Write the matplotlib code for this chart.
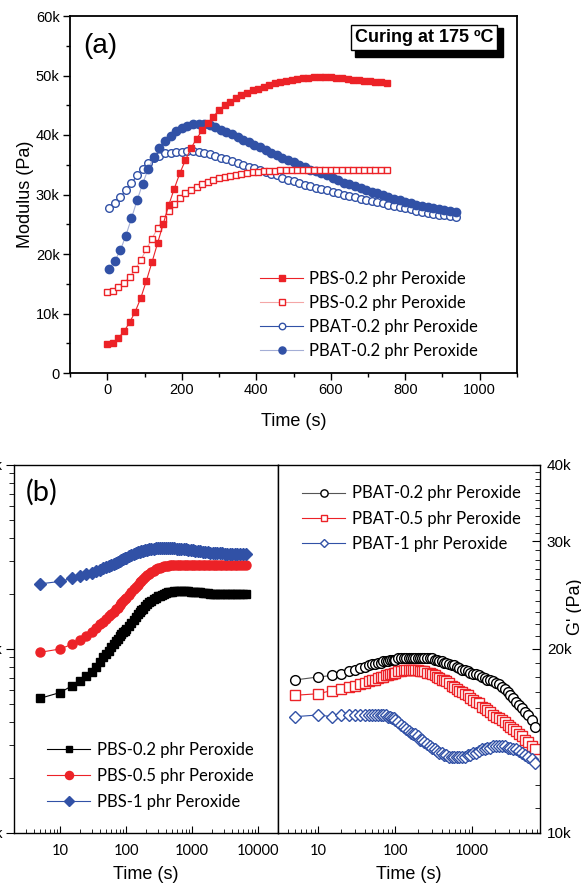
import numpy as np
import matplotlib
matplotlib.use('Agg')
import matplotlib.pyplot as plt
from matplotlib.patches import Rectangle
from matplotlib.ticker import MultipleLocator, LogLocator, NullFormatter, FixedLocator

plt.rcParams['font.family'] = ['Liberation Sans', 'DejaVu Sans']

RED = '#EC2227'
BLUE = '#3151A6'

# ---- (a) curing at 175 C, modulus in kPa, one point every 15 s ----
pbs_fill_a = [4.9, 5.1, 5.9, 7.0, 8.5, 10.3, 12.6, 15.5, 18.6, 21.8, 25.0, 28.2, 31.0,
              33.6, 35.8, 37.8, 39.4, 40.8, 42.0, 43.1, 44.2, 45.0, 45.6, 46.2, 46.7,
              47.1, 47.5, 47.8, 48.1, 48.4, 48.7, 48.9, 49.1, 49.3, 49.4, 49.5, 49.6,
              49.7, 49.7, 49.7, 49.7, 49.6, 49.5, 49.4, 49.3, 49.2, 49.1, 49.0, 48.9,
              48.9, 48.8]
pbs_open_a = [13.6, 13.8, 14.5, 15.2, 16.1, 17.4, 19.0, 20.8, 22.6, 24.3, 25.9, 27.2,
              28.4, 29.4, 30.2, 30.8, 31.3, 31.7, 32.1, 32.4, 32.7, 32.9, 33.1, 33.3,
              33.5, 33.6, 33.7, 33.8, 33.9, 34.0, 34.0, 34.1, 34.1, 34.2, 34.2, 34.2,
              34.2, 34.2, 34.2, 34.2, 34.2, 34.2, 34.2, 34.2, 34.2, 34.2, 34.2, 34.2,
              34.1, 34.1, 34.1]
pbat_open_a = [27.7, 28.5, 29.5, 30.8, 31.9, 33.2, 34.3, 35.3, 36.1, 36.5, 36.9, 37.0,
               37.1, 37.2, 37.3, 37.3, 37.2, 37.0, 36.8, 36.5, 36.2, 35.9, 35.6, 35.3,
               35.0, 34.7, 34.4, 34.1, 33.8, 33.5, 33.2, 32.8, 32.5, 32.2, 31.9, 31.6,
               31.4, 31.1, 30.9, 30.7, 30.4, 30.2, 30.0, 29.8, 29.5, 29.3, 29.1, 28.9,
               28.7, 28.5, 28.3, 28.1, 27.9, 27.7, 27.5, 27.3, 27.1, 26.9, 26.8, 26.6,
               26.5, 26.4, 26.3]
pbat_fill_a = [17.5, 18.8, 20.6, 23.1, 26.0, 29.0, 31.8, 34.3, 36.3, 37.8, 39.0, 39.9,
               40.6, 41.1, 41.5, 41.8, 41.9, 41.9, 41.7, 41.3, 40.9, 40.5, 40.1, 39.6,
               39.2, 38.8, 38.4, 37.9, 37.4, 37.0, 36.6, 36.2, 35.8, 35.4, 35.0, 34.6,
               34.2, 33.9, 33.6, 33.2, 32.8, 32.4, 32.0, 31.7, 31.4, 31.1, 30.8, 30.5,
               30.2, 29.9, 29.6, 29.3, 29.0, 28.8, 28.5, 28.3, 28.1, 27.9, 27.7, 27.5,
               27.4, 27.2, 27.1]
t_pbs_a = np.arange(len(pbs_fill_a)) * 15
t_pbat_a = 5 + np.arange(len(pbat_fill_a)) * 15

# ---- (b) G' (kPa) against time (s) ----
t_b = [5, 10, 15, 20, 25, 30, 35, 40, 45, 50, 55, 60,
       65, 70, 75, 80, 85, 90, 95, 100,
       110, 120, 130, 140, 150, 160, 170, 180,
       195, 210, 225, 240, 260, 280, 300, 325, 350, 375, 400,
       430, 460, 500, 540, 580, 630, 680, 740, 800, 870, 950,
       1030, 1120, 1220, 1330, 1450, 1580, 1720, 1870, 2040, 2220,
       2420, 2640, 2880, 3140, 3420, 3730, 4070, 4440, 4840, 5280,
       5900, 6500]
pbs_02 = [5.4, 5.8, 6.3, 6.7, 7.1, 7.5, 8.0, 8.5, 9.0, 9.4, 9.8, 10.2,
          10.6, 11.0, 11.3, 11.7, 12.0, 12.3, 12.6, 12.9,
          13.4, 13.9, 14.4, 14.9, 15.4, 15.8, 16.2, 16.6,
          17.1, 17.5, 17.9, 18.2, 18.6, 19.0, 19.3, 19.5, 19.7, 19.9, 20.1,
          20.3, 20.4, 20.5, 20.6, 20.7, 20.7, 20.7, 20.7, 20.6, 20.6, 20.5,
          20.4, 20.4, 20.3, 20.3, 20.2, 20.2, 20.1, 20.0, 20.0, 19.9,
          19.9, 19.9, 19.9, 19.9, 19.9, 19.9, 20.0, 20.0, 20.0, 20.0,
          20.0, 20.0]
pbs_05 = [9.6, 10.0, 10.6, 11.2, 11.8, 12.4, 13.0, 13.6, 14.1, 14.6, 15.1, 15.5,
          15.9, 16.4, 16.8, 17.3, 17.7, 18.2, 18.6, 19.0,
          19.7, 20.5, 21.1, 21.8, 22.4, 23.0, 23.5, 24.0,
          24.6, 25.2, 25.7, 26.1, 26.7, 27.1, 27.4, 27.7, 27.9, 28.1, 28.3,
          28.4, 28.5, 28.5, 28.6, 28.6, 28.6, 28.6, 28.6, 28.6, 28.6, 28.6,
          28.6, 28.6, 28.6, 28.6, 28.6, 28.6, 28.6, 28.6, 28.6, 28.6,
          28.6, 28.6, 28.6, 28.6, 28.6, 28.6, 28.6, 28.6, 28.6, 28.6,
          28.6, 28.6]
pbs_1 = [22.6, 23.3, 24.2, 24.9, 25.5, 26.0, 26.5, 27.0, 27.4, 27.8, 28.2, 28.6,
         29.0, 29.4, 29.7, 30.1, 30.4, 30.8, 31.1, 31.4,
         31.9, 32.4, 32.8, 33.2, 33.5, 33.8, 34.0, 34.2,
         34.5, 34.7, 34.9, 35.0, 35.1, 35.2, 35.3, 35.4, 35.4, 35.4, 35.4,
         35.4, 35.3, 35.3, 35.2, 35.1, 35.1, 35.0, 34.9, 34.8, 34.7, 34.5,
         34.4, 34.2, 34.1, 33.9, 33.8, 33.6, 33.5, 33.4, 33.3, 33.3,
         33.2, 33.1, 33.1, 33.0, 33.0, 33.0, 33.0, 32.9, 32.9, 32.9,
         32.9, 32.9]
pbat_02 = [17.8, 18.0, 18.1, 18.2, 18.4, 18.5, 18.6, 18.7, 18.8, 18.9, 18.9, 19.0,
           19.0, 19.1, 19.1, 19.1, 19.2, 19.2, 19.2, 19.2,
           19.3, 19.3, 19.3, 19.3, 19.3, 19.3, 19.3, 19.3,
           19.3, 19.3, 19.3, 19.3, 19.3, 19.3, 19.3, 19.2, 19.2, 19.1, 19.1,
           19.0, 19.0, 18.9, 18.8, 18.8, 18.7, 18.6, 18.5, 18.5, 18.4, 18.3,
           18.2, 18.2, 18.1, 18.0, 17.9, 17.8, 17.8, 17.7, 17.6, 17.5,
           17.3, 17.2, 17.0, 16.8, 16.6, 16.4, 16.2, 16.0, 15.8, 15.6,
           15.3, 14.9]
pbat_05 = [16.8, 16.9, 17.1, 17.2, 17.3, 17.4, 17.5, 17.6, 17.7, 17.8, 17.8, 17.9,
           18.0, 18.0, 18.1, 18.1, 18.2, 18.2, 18.3, 18.3,
           18.4, 18.4, 18.5, 18.5, 18.5, 18.5, 18.5, 18.5,
           18.5, 18.4, 18.4, 18.4, 18.3, 18.3, 18.2, 18.1, 18.0, 17.9, 17.8,
           17.8, 17.7, 17.6, 17.4, 17.3, 17.2, 17.1, 17.0, 16.9, 16.8, 16.6,
           16.5, 16.4, 16.3, 16.1, 16.0, 15.9, 15.8, 15.6, 15.5, 15.4,
           15.3, 15.2, 15.0, 14.9, 14.8, 14.7, 14.5, 14.4, 14.2, 14.1,
           13.9, 13.7]
pbat_1 = [15.5, 15.6, 15.5, 15.6, 15.6, 15.6, 15.6, 15.6, 15.6, 15.6, 15.6, 15.6,
          15.6, 15.6, 15.6, 15.5, 15.5, 15.4, 15.4, 15.3,
          15.2, 15.0, 14.9, 14.8, 14.7, 14.6, 14.5, 14.5,
          14.4, 14.2, 14.2, 14.1, 14.0, 13.9, 13.8, 13.7, 13.6, 13.5, 13.5,
          13.4, 13.4, 13.3, 13.3, 13.3, 13.3, 13.3, 13.3, 13.3, 13.4, 13.4,
          13.5, 13.5, 13.6, 13.7, 13.7, 13.8, 13.8, 13.9, 13.9, 13.9,
          13.9, 13.9, 13.8, 13.8, 13.7, 13.7, 13.6, 13.5, 13.4, 13.3,
          13.2, 13.0]

fig = plt.figure(figsize=(5.81, 8.84), dpi=100)
W, H = 581, 884


def place(l, r, t, b):
    return fig.add_axes([l / W, 1 - b / H, (r - l) / W, (b - t) / H])


# ================= (a) =================
ax_a = place(70, 517, 16, 373)
ln_pf, = ax_a.plot(t_pbs_a, pbs_fill_a, color=RED, lw=0.8, marker='s', ms=5,
                   mfc=RED, mec=RED, label='PBS-0.2 phr Peroxide', zorder=6)
ln_po, = ax_a.plot(t_pbs_a, pbs_open_a, color='#F4A6A6', lw=0.8, marker='s', ms=5,
                   mfc='white', mec=RED, mew=1.0, label='PBS-0.2 phr Peroxide', zorder=5)
ln_bo, = ax_a.plot(t_pbat_a, pbat_open_a, color=BLUE, lw=0.8, marker='o', ms=5.5,
                   mfc='white', mec=BLUE, mew=1.0, label='PBAT-0.2 phr Peroxide', zorder=3)
ln_bf, = ax_a.plot(t_pbat_a, pbat_fill_a, color='#A4AED6', lw=0.8, marker='o', ms=6,
                   mfc=BLUE, mec=BLUE, label='PBAT-0.2 phr Peroxide', zorder=4)

ax_a.set_xlim(-100, 1100)
ax_a.set_ylim(0, 60)
ax_a.xaxis.set_major_locator(MultipleLocator(200))
ax_a.xaxis.set_minor_locator(MultipleLocator(100))
ax_a.set_yticks([0, 10, 20, 30, 40, 50, 60], ['0', '10k', '20k', '30k', '40k', '50k', '60k'])
ax_a.yaxis.set_minor_locator(MultipleLocator(5))
ax_a.tick_params(which='both', direction='out', labelsize=10.5, width=1.0)
ax_a.tick_params(which='major', length=5, pad=2.5)
ax_a.tick_params(which='minor', length=3)
for s in ax_a.spines.values():
    s.set_linewidth(1.3)
ax_a.set_xlabel('Time (s)', fontsize=13, labelpad=11)
ax_a.set_ylabel('Modulus (Pa)', fontsize=13, labelpad=1)

ax_a.text(0.03, 0.915, '(a)', transform=ax_a.transAxes, fontsize=20, va='center')

# label box with a drop shadow
ax_a.add_patch(Rectangle((0.6376, 0.885), 0.331, 0.0812, transform=ax_a.transAxes,
                         fc='black', ec='black', clip_on=False, zorder=9))
ax_a.text(0.792, 0.94, 'Curing at 175 ºC', transform=ax_a.transAxes, ha='center',
          va='center', fontsize=13, fontweight='bold', color='black',
          bbox=dict(boxstyle='square,pad=0.2', fc='white', ec='black', lw=1.0), zorder=10)

ax_a.legend(handles=[ln_pf, ln_po, ln_bo, ln_bf], loc='center left',
            bbox_to_anchor=(0.425, 0.1625), frameon=False, borderpad=0,
            borderaxespad=0, handlelength=2.6, handletextpad=0.35,
            labelspacing=0.48, markerscale=0.85,
            prop={'family': ['Lato', 'DejaVu Sans'], 'size': 12})

# ================= (b) left =================
ax_l = place(14, 278, 465, 833)
ax_l.plot(t_b, pbs_02, color='black', lw=0.8, marker='s', ms=5.5, mfc='black', mec='black',
          label='PBS-0.2 phr Peroxide')
ax_l.plot(t_b, pbs_05, color=RED, lw=0.8, marker='o', ms=6.5, mfc=RED, mec=RED,
          label='PBS-0.5 phr Peroxide')
ax_l.plot(t_b, pbs_1, color=BLUE, lw=0.8, marker='D', ms=6, mfc=BLUE, mec=BLUE,
          label='PBS-1 phr Peroxide')
ax_l.set_xscale('log')
ax_l.set_yscale('log')
ax_l.set_xlim(2, 2e4)
ax_l.set_ylim(1, 100)
ax_l.set_xticks([10, 100, 1000, 10000], ['10', '100', '1000', '10000'])
ax_l.xaxis.set_minor_locator(LogLocator(base=10, subs=np.arange(2, 10)))
ax_l.xaxis.set_minor_formatter(NullFormatter())
ax_l.set_yticks([1, 10, 100], ['1k', '10k', '100k'])
ax_l.yaxis.set_minor_locator(LogLocator(base=10, subs=np.arange(2, 10)))
ax_l.yaxis.set_minor_formatter(NullFormatter())
ax_l.tick_params(axis='x', which='both', direction='in', top=False)
ax_l.tick_params(axis='x', which='major', length=5, pad=8, labelsize=10.5,
                 labelfontfamily='Lato')
ax_l.tick_params(axis='x', which='minor', length=3)
ax_l.tick_params(axis='y', which='both', direction='out', right=False, labelsize=10.5)
ax_l.tick_params(axis='y', which='major', length=6, pad=2)
ax_l.tick_params(axis='y', which='minor', length=3.5)
for s in ax_l.spines.values():
    s.set_linewidth(1.0)
ax_l.set_xlabel('Time (s)', fontsize=13, labelpad=6)
ax_l.text(0.045, 0.925, '(b)', transform=ax_l.transAxes, fontsize=21, va='center',
          family=['Lato', 'DejaVu Sans'])
ax_l.legend(loc='center left', bbox_to_anchor=(0.125, 0.155), frameon=False,
            borderpad=0, borderaxespad=0, handlelength=2.6, handletextpad=0.4,
            labelspacing=0.62, markerscale=0.9,
            prop={'family': ['Lato', 'DejaVu Sans'], 'size': 12})

# ================= (b) right =================
ax_r = place(278, 540, 465, 833)
ax_r.plot(t_b, pbat_02, color='#555555', lw=0.8, marker='o', ms=7, mfc='white',
          mec='black', mew=1.0, label='PBAT-0.2 phr Peroxide')
ax_r.plot(t_b, pbat_05, color=RED, lw=0.8, marker='s', ms=6.5, mfc='white', mec=RED,
          mew=1.0, label='PBAT-0.5 phr Peroxide')
ax_r.plot(t_b, pbat_1, color=BLUE, lw=0.8, marker='D', ms=6, mfc='white', mec=BLUE,
          mew=1.0, label='PBAT-1 phr Peroxide')
ax_r.set_xscale('log')
ax_r.set_yscale('log')
ax_r.set_xlim(3, 7600)
ax_r.set_ylim(10, 40)
ax_r.set_xticks([10, 100, 1000], ['10', '100', '1000'])
ax_r.xaxis.set_minor_locator(LogLocator(base=10, subs=np.arange(2, 10)))
ax_r.xaxis.set_minor_formatter(NullFormatter())
ax_r.yaxis.tick_right()
ax_r.yaxis.set_label_position('right')
ax_r.set_yticks([10, 20, 30, 40], ['10k', '20k', '30k', '40k'])
ax_r.yaxis.set_minor_locator(FixedLocator([v for v in range(11, 40) if v % 10]))
ax_r.yaxis.set_minor_formatter(NullFormatter())
ax_r.tick_params(axis='x', which='both', direction='in', top=False)
ax_r.tick_params(axis='x', which='major', length=5, pad=8, labelsize=10.5,
                 labelfontfamily='Lato')
ax_r.tick_params(axis='x', which='minor', length=3)
ax_r.tick_params(axis='y', which='both', direction='in', left=False, labelsize=11)
ax_r.tick_params(axis='y', which='major', length=6, pad=5)
ax_r.tick_params(axis='y', which='minor', length=3.5)
for s in ax_r.spines.values():
    s.set_linewidth(1.0)
ax_r.set_xlabel('Time (s)', fontsize=13, labelpad=6)
ax_r.set_ylabel("G' (Pa)", fontsize=13)
ax_r.yaxis.set_label_coords(1.103, 0.614)
ax_r.legend(loc='center left', bbox_to_anchor=(0.0916, 0.854), frameon=False,
            borderpad=0, borderaxespad=0, handlelength=2.6, handletextpad=0.4,
            labelspacing=0.56, markerscale=0.75,
            prop={'family': ['Lato', 'DejaVu Sans'], 'size': 12})

fig.savefig('out.png', dpi=100)
